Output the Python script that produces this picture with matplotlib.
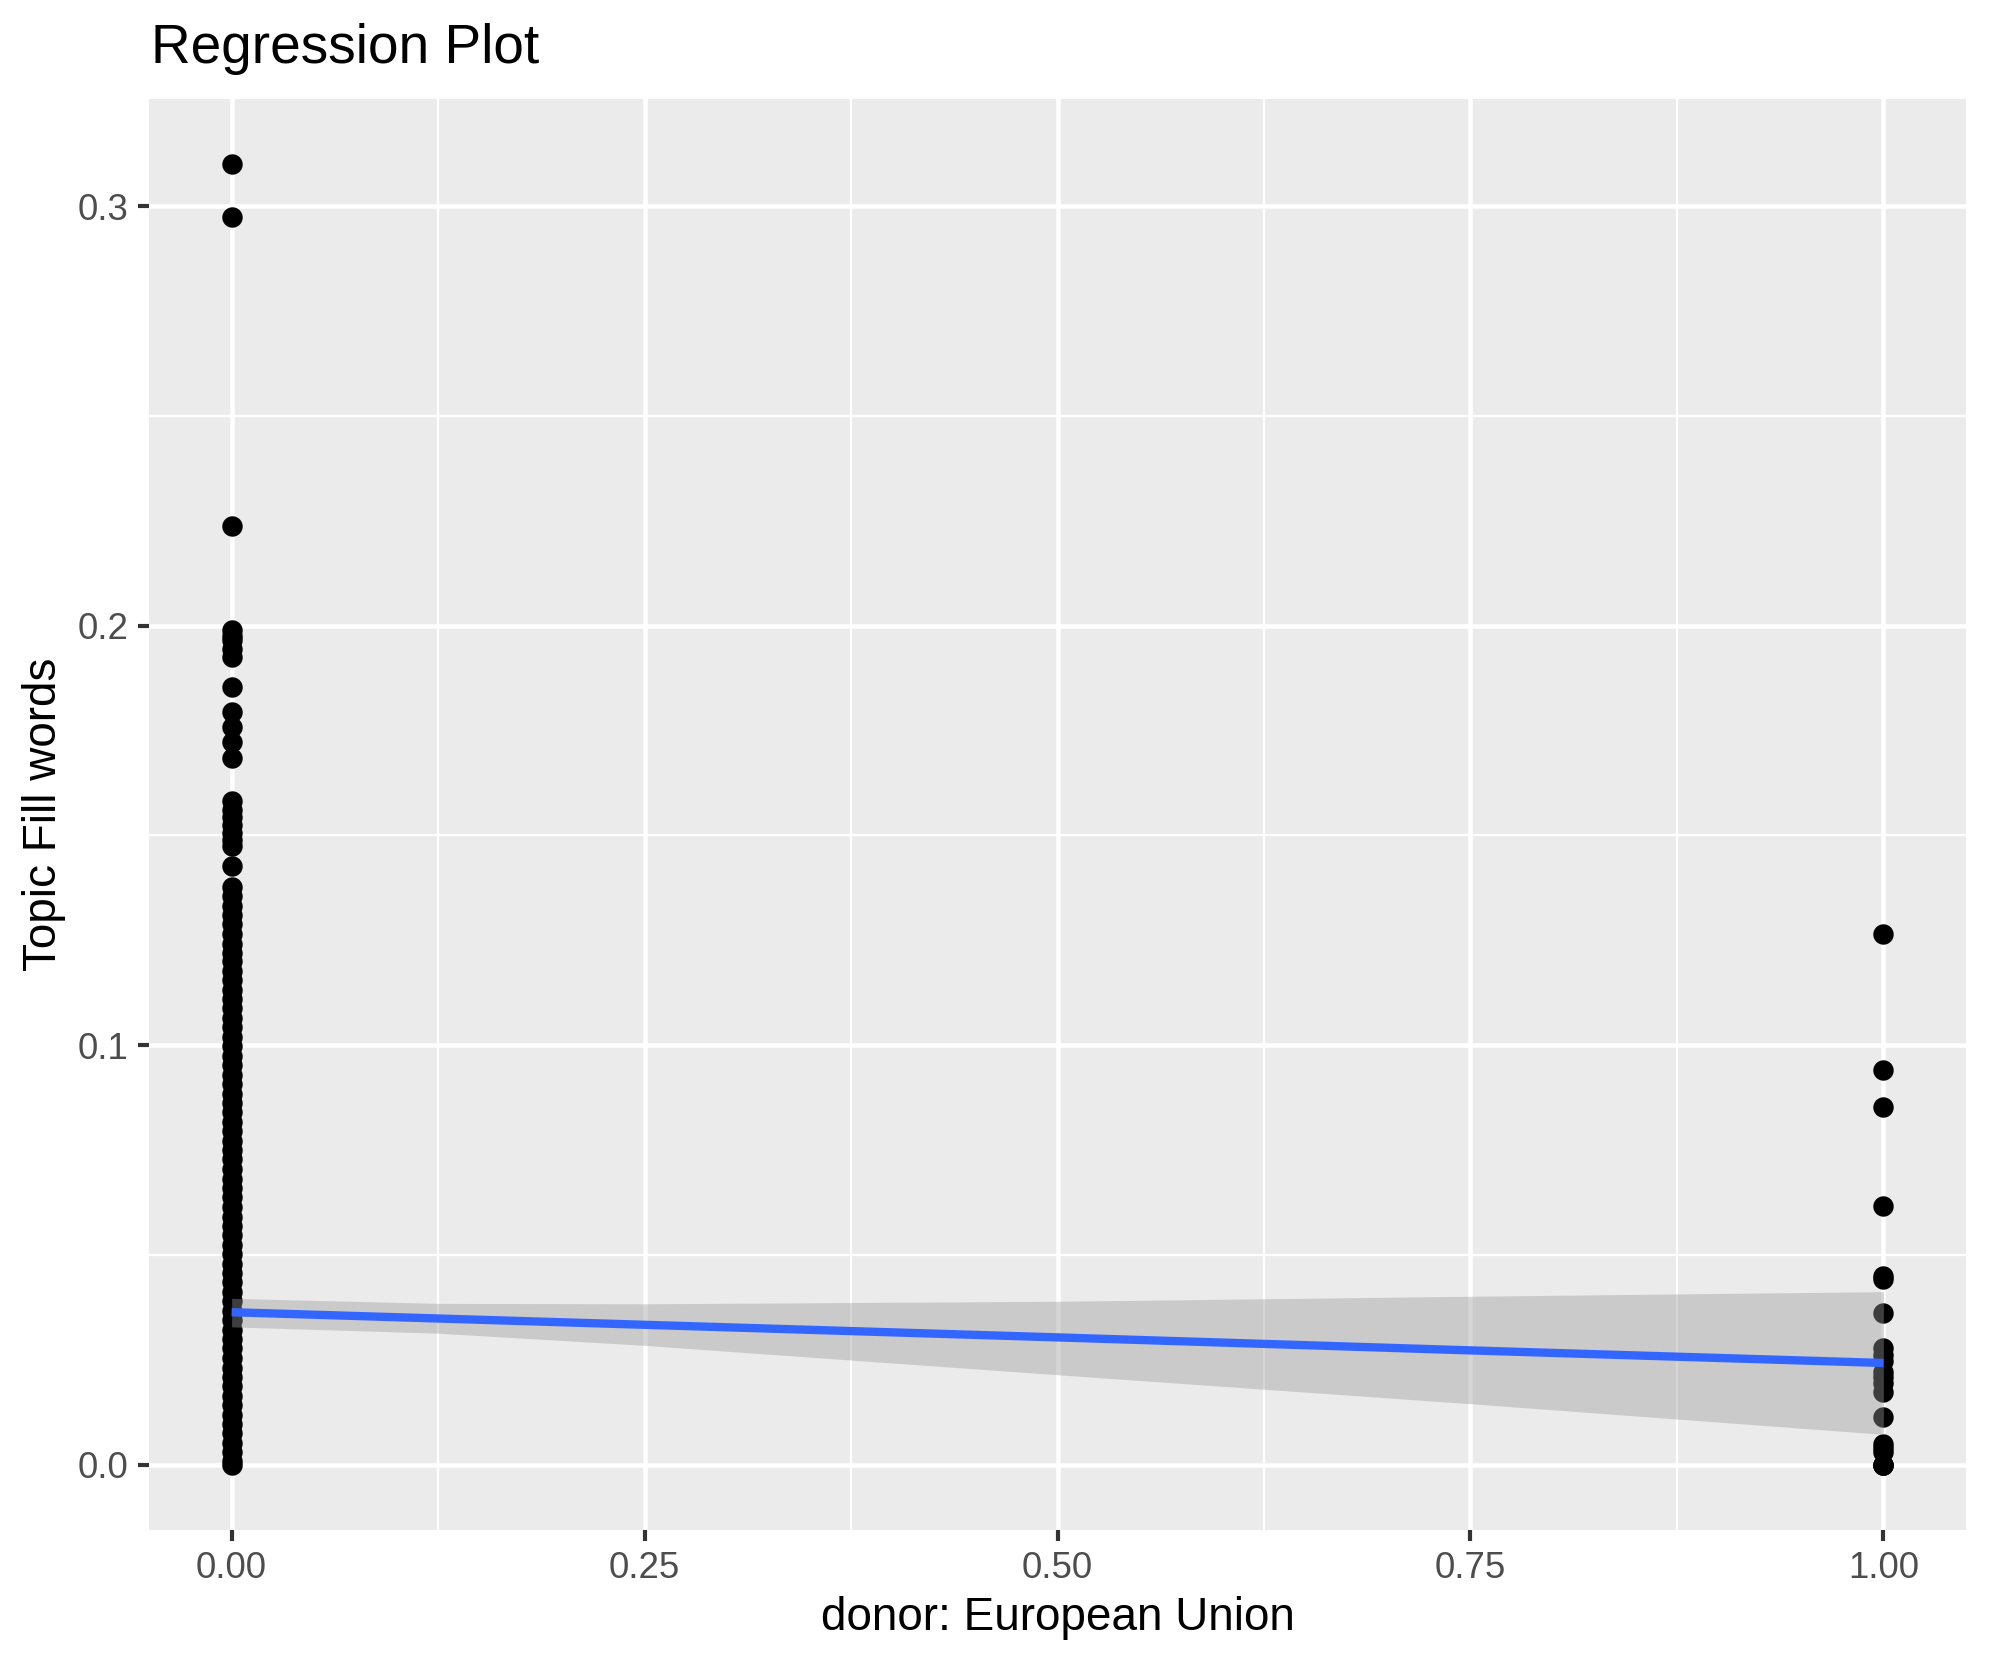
import matplotlib
matplotlib.use("Agg")
import matplotlib.pyplot as plt
import numpy as np

plt.rcParams['font.family'] = ['Liberation Sans', 'DejaVu Sans']

# точки для donor = 0 (столбец очень плотный ниже ~0.138)
y_donor0 = [0.310, 0.2975, 0.2237, 0.1990, 0.1975, 0.1965, 0.1945, 0.1925,
            0.1855, 0.1795, 0.1758, 0.1722, 0.1685, 0.1583, 0.1560, 0.1545,
            0.1525, 0.1505, 0.1490, 0.1475, 0.1428,
            0.1378, 0.1355, 0.1332, 0.1310, 0.1288, 0.1265, 0.1242, 0.1220,
            0.1200, 0.1178, 0.1155, 0.1132, 0.1110, 0.1088, 0.1065, 0.1043,
            0.1020, 0.0998, 0.0975, 0.0953, 0.0930, 0.0908, 0.0885, 0.0862,
            0.0840, 0.0818, 0.0795, 0.0772, 0.0750, 0.0728, 0.0705, 0.0682,
            0.0660, 0.0638, 0.0615, 0.0592, 0.0570, 0.0548, 0.0525, 0.0502,
            0.0480, 0.0458, 0.0435, 0.0412, 0.0390, 0.0368, 0.0345, 0.0322,
            0.0300, 0.0278, 0.0255, 0.0232, 0.0210, 0.0188, 0.0165, 0.0142,
            0.0120, 0.0098, 0.0075, 0.0052, 0.0030, 0.0010, 0.0]

# точки для donor = 1
y_donor1 = [0.1265, 0.0941, 0.0854, 0.0617, 0.0450, 0.0443, 0.0362, 0.0278,
            0.0262, 0.0248, 0.0222, 0.0210, 0.0196, 0.0173, 0.0114, 0.0050,
            0.0040, 0.0032, 0.0, 0.0, 0.0]

# линия регрессии и доверительная полоса
fit_x = [0.0, 0.125, 0.25, 0.5, 0.75, 1.0]
fit_y = [0.0364, 0.0349, 0.0334, 0.0304, 0.0273, 0.0243]
ci_hi = [0.0397, 0.0385, 0.0384, 0.0390, 0.0402, 0.0413]
ci_lo = [0.0329, 0.0314, 0.0285, 0.0215, 0.0146, 0.0073]

x_ticks = [0.0, 0.25, 0.5, 0.75, 1.0]
x_ticklabels = ['0.00', '0.25', '0.50', '0.75', '1.00']
y_ticks = [0.0, 0.1, 0.2, 0.3]
y_ticklabels = ['0.0', '0.1', '0.2', '0.3']

fig = plt.figure(figsize=(1990 / 300, 1665 / 300), dpi=300)
ax = fig.add_axes([149 / 1990, 1 - 1530 / 1665, (1966 - 149) / 1990, (1530 - 99) / 1665])
ax.set_facecolor('#EBEBEB')
for s in ax.spines.values():
    s.set_visible(False)

# сетка как в ggplot
for v in [0.125, 0.375, 0.625, 0.875]:
    ax.axvline(v, color='white', linewidth=0.55, zorder=0.5)
for v in [0.05, 0.15, 0.25]:
    ax.axhline(v, color='white', linewidth=0.55, zorder=0.5)
for v in x_ticks:
    ax.axvline(v, color='white', linewidth=1.1, zorder=0.6)
for v in y_ticks:
    ax.axhline(v, color='white', linewidth=1.1, zorder=0.6)

ax.plot(np.zeros(len(y_donor0)), y_donor0, 'o', color='black', markersize=4.9,
        markeredgewidth=0, zorder=2)
ax.plot(np.ones(len(y_donor1)), y_donor1, 'o', color='black', markersize=4.9,
        markeredgewidth=0, zorder=2)

ax.fill_between(fit_x, ci_lo, ci_hi, color='#999999', alpha=0.4, linewidth=0, zorder=3)
ax.plot(fit_x, fit_y, color='#3366FF', linewidth=2.0, zorder=4, solid_capstyle='butt')

ax.set_xlim(-0.05, 1.05)
ax.set_ylim(-0.0155, 0.3255)
ax.set_xticks(x_ticks)
ax.set_xticklabels(x_ticklabels)
ax.set_yticks(y_ticks)
ax.set_yticklabels(y_ticklabels)
ax.tick_params(axis='both', length=2.75, width=1.0, color='#333333',
               labelcolor='#4D4D4D', labelsize=8.8, pad=2.2)

fig.text(151 / 1990, 1 - 63 / 1665, 'Regression Plot', fontsize=13.2,
         ha='left', va='baseline', color='black')
fig.text((149 + 1966) / 2 / 1990, 1 - 1630 / 1665, 'donor: European Union',
         fontsize=11, ha='center', va='baseline', color='black')
fig.text(43.5 / 1990, 1 - 814.5 / 1665, 'Topic Fill words', fontsize=11,
         rotation=90, ha='center', va='center', color='black')

fig.savefig('out.png', dpi=300)
